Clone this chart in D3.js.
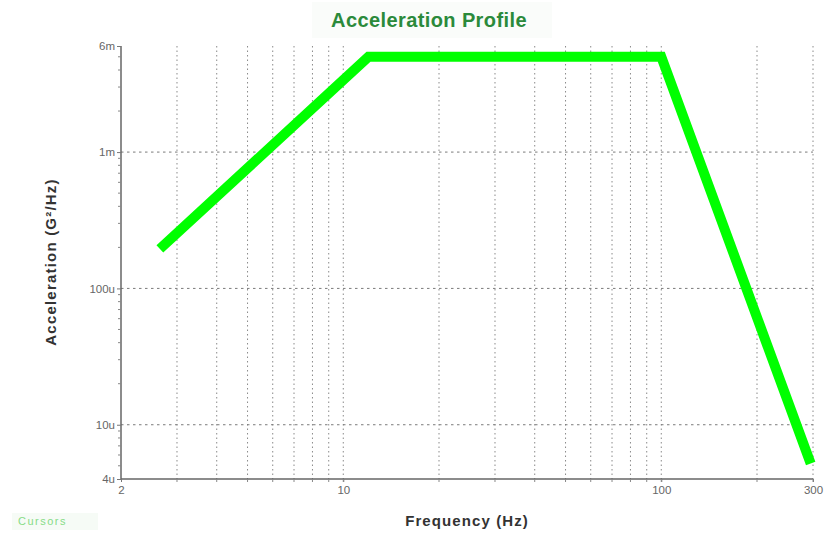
<!DOCTYPE html>
<html>
<head>
<meta charset="utf-8">
<script src="https://cdn.jsdelivr.net/npm/d3@7"></script>
<style>
  html, body { margin: 0; padding: 0; background: #fff; }
  svg { display: block; }
</style>
</head>
<body>
<svg id="chart" width="833" height="533"></svg>
<script>
// Vibration test profile: PSD breakpoints (frequency in Hz, level in G²/Hz)
const freqHz = [2.65, 12, 100, 295];
const accelG2Hz = [1.95e-4, 5.0e-3, 5.0e-3, 5.2e-6];

// Axis ticks
const xTickValues = [2, 10, 100, 300];
const xTickLabels = ["2", "10", "100", "300"];
const yTickValues = [4e-6, 1e-5, 1e-4, 1e-3, 6e-3];
const yTickLabels = ["4u", "10u", "100u", "1m", "6m"];

// Grid positions (log decades, multiples 1..9)
const xGridValues = [3, 4, 5, 6, 7, 8, 9, 10, 20, 30, 40, 50, 60, 70, 80, 90, 100, 200, 300];
const yGridValues = [1e-5, 1e-4, 1e-3];
const yMinorTicks = [];
[1e-6, 1e-5, 1e-4, 1e-3].forEach(d => {
  for (let m = 2; m <= 9; m++) {
    const v = d * m;
    if (v > 4e-6 && v < 6e-3) yMinorTicks.push(v);
  }
});

(function draw() {
  const svg = d3.select("#chart");
  const plotL = 121, plotR = 813, plotT = 46, plotB = 479;
  const font = "Liberation Sans, Arial, sans-serif";

  const x = d3.scaleLog().domain([2, 300]).range([plotL, plotR]);
  const y = d3.scaleLog().domain([4e-6, 6e-3]).range([plotB, plotT]);

  // Title
  svg.append("rect")
    .attr("x", 312).attr("y", 2).attr("width", 240).attr("height", 36)
    .attr("fill", "#fafcfa");
  svg.append("text")
    .attr("x", 429).attr("y", 27)
    .attr("text-anchor", "middle")
    .attr("font-family", font)
    .attr("font-weight", "bold")
    .attr("font-size", 20)
    .attr("letter-spacing", 0.4)
    .attr("fill", "#2b8a3b")
    .text("Acceleration Profile");

  // Grid
  const grid = svg.append("g");
  grid.selectAll("line.vx")
    .data(xGridValues)
    .join("line")
    .attr("class", "vx")
    .attr("x1", d => x(d)).attr("x2", d => x(d))
    .attr("y1", plotT).attr("y2", plotB)
    .attr("stroke", "#8a8a8a")
    .attr("stroke-width", 1)
    .attr("stroke-dasharray", "1.5,3");
  grid.selectAll("line.hy")
    .data(yGridValues)
    .join("line")
    .attr("class", "hy")
    .attr("x1", plotL).attr("x2", plotR)
    .attr("y1", d => y(d)).attr("y2", d => y(d))
    .attr("stroke", "#7a7a7a")
    .attr("stroke-width", 1)
    .attr("stroke-dasharray", "2.5,3.5");

  // Axes
  const yAxis = d3.axisLeft(y)
    .tickValues(yTickValues)
    .tickFormat((d, i) => yTickLabels[i])
    .tickSize(4)
    .tickPadding(2);
  const gy = svg.append("g").attr("transform", `translate(${plotL},0)`).call(yAxis);

  const xAxis = d3.axisBottom(x)
    .tickValues(xTickValues)
    .tickFormat((d, i) => xTickLabels[i])
    .tickSize(3)
    .tickPadding(4);
  const gx = svg.append("g").attr("transform", `translate(0,${plotB})`).call(xAxis);

  [gx, gy].forEach(g => {
    g.select(".domain").attr("stroke", "#666").attr("stroke-width", 1.5);
    g.selectAll(".tick line").attr("stroke", "#777");
    g.selectAll(".tick text")
      .attr("fill", "#666")
      .attr("font-family", font)
      .attr("font-size", 11.5);
  });
  gy.select(".domain").attr("d", `M0,${plotB}V${plotT}`);
  gx.select(".domain").attr("d", `M${plotL},0H${plotR}`);

  // Minor ticks along the y axis
  svg.append("g").selectAll("line")
    .data(yMinorTicks)
    .join("line")
    .attr("x1", plotL - 3).attr("x2", plotL)
    .attr("y1", d => y(d)).attr("y2", d => y(d))
    .attr("stroke", "#888");

  // Minor ticks along the x axis
  svg.append("g").selectAll("line")
    .data(xGridValues)
    .join("line")
    .attr("x1", d => x(d)).attr("x2", d => x(d))
    .attr("y1", plotB).attr("y2", plotB + 3)
    .attr("stroke", "#888");

  // Profile line
  const line = d3.line()
    .x((d, i) => x(freqHz[i]))
    .y((d, i) => y(accelG2Hz[i]));
  svg.append("path")
    .datum(freqHz)
    .attr("d", line)
    .attr("fill", "none")
    .attr("stroke", "#00ff00")
    .attr("stroke-width", 10)
    .attr("stroke-linejoin", "miter")
    .attr("stroke-linecap", "butt");

  // Axis titles
  svg.append("text")
    .attr("transform", "translate(56,262) rotate(-90)")
    .attr("text-anchor", "middle")
    .attr("font-family", font)
    .attr("font-weight", "bold")
    .attr("font-size", 15)
    .attr("letter-spacing", 1.2)
    .attr("fill", "#333")
    .text("Acceleration (G²/Hz)");

  svg.append("text")
    .attr("x", 467).attr("y", 526)
    .attr("text-anchor", "middle")
    .attr("font-family", font)
    .attr("font-weight", "bold")
    .attr("font-size", 15)
    .attr("letter-spacing", 1.1)
    .attr("fill", "#333")
    .text("Frequency (Hz)");

  // Cursor readout label
  svg.append("rect")
    .attr("x", 12).attr("y", 513).attr("width", 86).attr("height", 17)
    .attr("fill", "#f6fbf6");
  svg.append("text")
    .attr("x", 18).attr("y", 525)
    .attr("font-family", font)
    .attr("font-size", 11)
    .attr("letter-spacing", 1.5)
    .attr("fill", "#86dc86")
    .text("Cursors");
})();
</script>
</body>
</html>
